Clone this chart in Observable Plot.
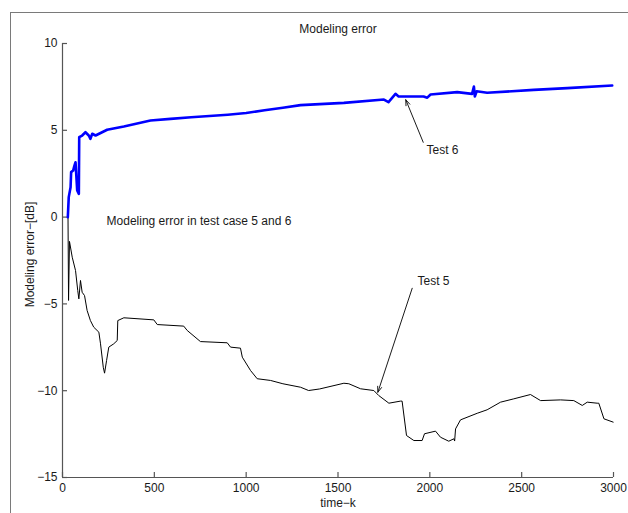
<!DOCTYPE html>
<html>
<head>
<meta charset="utf-8">
<script src="https://cdn.jsdelivr.net/npm/d3@7"></script>
<script src="https://cdn.jsdelivr.net/npm/@observablehq/plot@0.6"></script>
<style>
  html, body { margin: 0; padding: 0; background: #fff; overflow: hidden; }
  #wrap { position: relative; width: 628px; height: 513px; overflow: hidden; }
  #border { position: absolute; left: 10px; top: 12px; width: 700px; height: 600px;
            border: 1.5px solid #7a7a7a; box-sizing: border-box; pointer-events: none; }
  #chart { position: absolute; left: 0; top: 0; }
</style>
</head>
<body>
<div id="wrap"><div id="border"></div><div id="chart"></div></div>
<script>
// Test 6 modelling error (blue)
const test6K = [29, 34, 44, 47, 58, 65, 71, 80, 89, 91, 107, 125, 143, 152, 162, 180, 243, 334, 479, 588,
  700, 800, 900, 1000, 1100, 1200, 1296, 1532, 1750, 1775, 1813, 1830, 1966, 1986, 2004, 2149, 2230,
  2240, 2245, 2255, 2312, 2566, 2748, 2993];
const test6Err = [0, 1.15, 1.72, 2.59, 2.68, 2.97, 3.16, 1.53, 1.34, 4.6, 4.7, 4.89, 4.7, 4.51, 4.8, 4.7, 5.03, 5.22, 5.56, 5.66,
  5.75, 5.82, 5.9, 6.0, 6.15, 6.3, 6.45, 6.58, 6.77, 6.62, 7.1, 6.95, 6.95, 6.88, 7.06, 7.2, 7.1,
  7.52, 6.95, 7.25, 7.16, 7.33, 7.43, 7.58];

// Test 5 modelling error (black)
const test5K = [30, 33, 38, 53, 71, 83, 89, 98, 107, 120, 134, 152, 170, 198, 207, 222, 229, 240, 252, 279, 298, 301,
  334, 497, 516, 660, 679, 751, 897, 915, 969, 979, 1024, 1060, 1133, 1200, 1296, 1340, 1400, 1532, 1559, 1623,
  1695, 1722, 1777, 1840, 1849, 1873, 1913, 1958, 1971, 2031, 2058, 2103, 2131, 2135, 2140, 2167, 2258, 2312,
  2385, 2457, 2548, 2603, 2712, 2784, 2830, 2857, 2911, 2920, 2948, 2998];
const test5Err = [0, -4.8, -1.4, -2.31, -3.08, -4.23, -4.71, -3.65, -4.33, -4.52, -5.38, -5.96, -6.34, -6.63, -7.3, -8.65, -8.99, -8.26, -7.49, -7.3, -7.11, -5.96,
  -5.8, -5.92, -6.19, -6.28, -6.53, -7.17, -7.24, -7.49, -7.55, -8.07, -8.84, -9.31, -9.41, -9.6, -9.8, -9.99, -9.9, -9.57, -9.6, -9.89,
  -9.99, -10.28, -10.72, -10.6, -10.6, -12.58, -12.87, -12.87, -12.48, -12.33, -12.68, -12.91, -12.77, -12.9, -12.2, -11.68, -11.3, -11.1,
  -10.66, -10.47, -10.22, -10.57, -10.53, -10.57, -10.85, -10.66, -10.72, -10.72, -11.62, -11.81];

const xTicks = [0, 500, 1000, 1500, 2000, 2500, 3000];
const yTicks = [-15, -10, -5, 0, 5, 10];

const titleText = "Modeling error";
const xLabel = "time\u2212k";
const yLabel = "Modeling error\u2212[dB]";

// callouts: label anchor and arrow from label to curve
const notes = [
  {text: "Modeling error in test case 5 and 6", x: 240, y: -0.26},
  {text: "Test 6", x: 1982, y: 3.83},
  {text: "Test 5", x: 1933, y: -3.71}
];
const arrows = [
  {x1: 1964, y1: 4.31, x2: 1869, y2: 6.76},
  {x1: 1904, y1: -4.10, x2: 1717, y2: -10.09}
];

const test6 = test6K.map((k, i) => ({k, e: test6Err[i]}));
const test5 = test5K.map((k, i) => ({k, e: test5Err[i]}));

const font = "'Liberation Sans', Arial, Helvetica, sans-serif";
const ink = "#1a1a1a";
const axisInk = "#555";

const chart = Plot.plot({
  width: 628,
  height: 513,
  marginLeft: 62,
  marginRight: 15,
  marginTop: 43,
  marginBottom: 36,
  style: {fontFamily: font, fontSize: "12px", color: ink, background: "transparent"},
  x: {domain: [0, 3000]},
  y: {domain: [-15, 10]},
  marks: [
    Plot.axisX(xTicks, {tickSize: 0, tickPadding: 6, label: null, fontSize: 12, tickFormat: d => String(d)}),
    Plot.axisY(yTicks, {tickSize: 0, tickPadding: 5, label: null, fontSize: 12}),
    // inward tick marks along both axes
    Plot.ruleX(xTicks, {insetTop: 429, stroke: axisInk, strokeWidth: 1.2}),
    Plot.ruleY(yTicks, {insetRight: 546, stroke: axisInk, strokeWidth: 1.2}),
    Plot.ruleX([0], {stroke: axisInk, strokeWidth: 1.2}),
    Plot.ruleY([-15], {stroke: axisInk, strokeWidth: 1.2}),
    Plot.line(test5, {x: "k", y: "e", stroke: "#000", strokeWidth: 1}),
    Plot.line(test6, {x: "k", y: "e", stroke: "#0000ff", strokeWidth: 2.6, strokeLinejoin: "round"}),
    Plot.arrow(arrows, {x1: "x1", y1: "y1", x2: "x2", y2: "y2", stroke: ink, strokeWidth: 1, headLength: 9, headAngle: 40, insetStart: 0, insetEnd: 0}),
    Plot.text(notes, {x: "x", y: "y", text: "text", textAnchor: "start", fontSize: 12, fill: ink}),
    Plot.text([titleText], {frameAnchor: "top", dy: -14, lineAnchor: "middle", fontSize: 12, fill: ink}),
    Plot.text([xLabel], {frameAnchor: "bottom", dy: 26, lineAnchor: "middle", fontSize: 12, fill: ink}),
    Plot.text([yLabel], {frameAnchor: "left", dx: -32, dy: -6, rotate: -90, textAnchor: "middle", lineAnchor: "middle", fontSize: 12, fill: ink})
  ]
});
document.getElementById("chart").appendChild(chart);
</script>
</body>
</html>
